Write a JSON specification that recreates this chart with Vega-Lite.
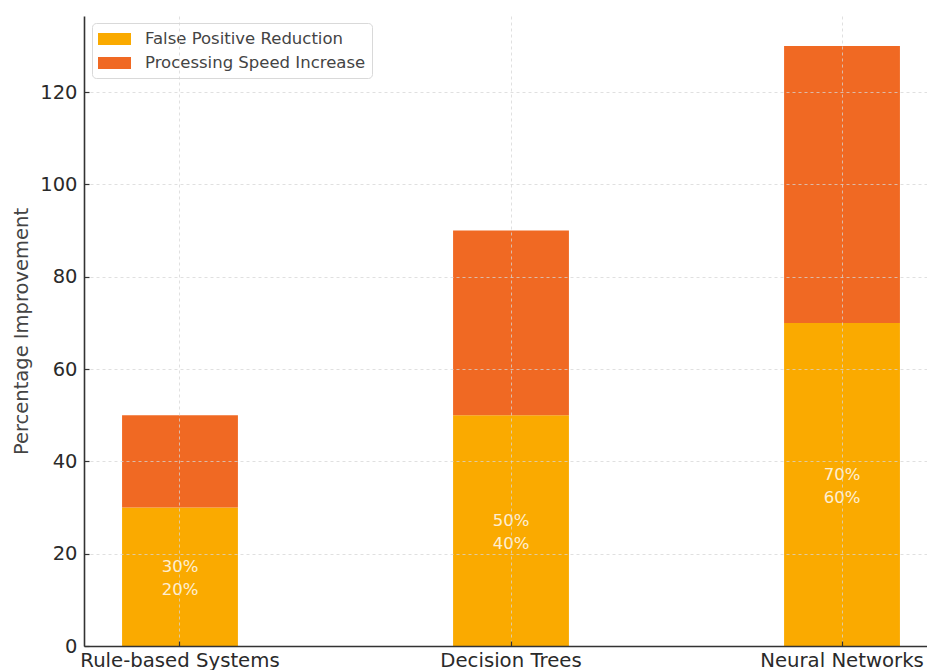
{
  "$schema": "https://vega.github.io/schema/vega-lite/v6.json",
  "autosize": {"type": "none"},
  "padding": {"left": 84, "top": 16, "right": 0, "bottom": 24},
  "width": 843,
  "height": 630,
  "background": "#ffffff",
  "config": {
    "font": "DejaVu Sans",
    "view": {"stroke": null}
  },
  "data": {
    "values": [
      {"system": "Rule-based Systems", "metric": "False Positive Reduction", "value": 30},
      {"system": "Rule-based Systems", "metric": "Processing Speed Increase", "value": 20},
      {"system": "Decision Trees", "metric": "False Positive Reduction", "value": 50},
      {"system": "Decision Trees", "metric": "Processing Speed Increase", "value": 40},
      {"system": "Neural Networks", "metric": "False Positive Reduction", "value": 70},
      {"system": "Neural Networks", "metric": "Processing Speed Increase", "value": 60}
    ]
  },
  "encoding": {
    "x": {
      "field": "system",
      "type": "nominal",
      "sort": null,
      "scale": {"range": [0, 854], "paddingInner": 0.65, "paddingOuter": 0.115},
      "axis": {
        "title": null,
        "labelAngle": 0,
        "labelFontSize": 19.7,
        "labelColor": "#2a2a2a",
        "labelLimit": 0,
        "labelPadding": 9,
        "tickSize": -5,
        "tickColor": "#333333",
        "tickWidth": 1.2,
        "domainColor": "#333333",
        "domainWidth": 1.6,
        "grid": true,
        "gridColor": "#d6d6d6",
        "gridOpacity": 0.75,
        "gridDash": [3, 3],
        "zindex": 1
      }
    }
  },
  "layer": [
    {
      "mark": {"type": "bar"},
      "encoding": {
        "y": {
          "field": "value",
          "type": "quantitative",
          "stack": "zero",
          "scale": {"domain": [0, 136.5], "nice": false},
          "axis": {
            "title": "Percentage Improvement",
            "titleFontSize": 19.5,
            "titleFontWeight": "normal",
            "titleColor": "#444444",
            "titlePadding": 8,
            "values": [0, 20, 40, 60, 80, 100, 120],
            "labelFontSize": 19.5,
            "labelColor": "#2a2a2a",
            "labelPadding": 12,
            "tickSize": -5,
            "tickColor": "#333333",
            "tickWidth": 1.2,
            "domainColor": "#333333",
            "domainWidth": 1.6,
            "grid": true,
            "gridColor": "#d6d6d6",
            "gridOpacity": 0.75,
            "gridDash": [3, 3],
            "zindex": 1
          }
        },
        "color": {
          "field": "metric",
          "type": "nominal",
          "scale": {
            "domain": ["False Positive Reduction", "Processing Speed Increase"],
            "range": ["#FAAA00", "#F06923"]
          },
          "legend": {
            "title": null,
            "orient": "none",
            "legendX": 8,
            "legendY": 7,
            "padding": 6,
            "rowPadding": 5,
            "fillColor": "#ffffff",
            "strokeColor": "#d9d9d9",
            "cornerRadius": 4,
            "symbolType": "M-1,-0.6L2.3,-0.6L2.3,0.6L-1,0.6Z",
            "symbolSize": 400,
            "symbolStrokeWidth": 0,
            "symbolOpacity": 1,
            "labelOffset": 27,
            "labelFontSize": 16.5,
            "labelColor": "#444444",
            "labelLimit": 400
          }
        },
        "order": {"field": "metric", "sort": "ascending"}
      }
    },
    {
      "mark": {
        "type": "text",
        "fontSize": 16.5,
        "color": "#ffffff",
        "opacity": 0.82,
        "baseline": "middle",
        "align": "center",
        "dy": -9.5,
        "text": {"expr": "datum.value + '%'"}
      },
      "encoding": {
        "y": {
          "field": "value",
          "type": "quantitative",
          "stack": null,
          "scale": {"domain": [0, 273], "nice": false},
          "axis": null
        }
      }
    }
  ],
  "resolve": {"scale": {"y": "independent"}}
}
